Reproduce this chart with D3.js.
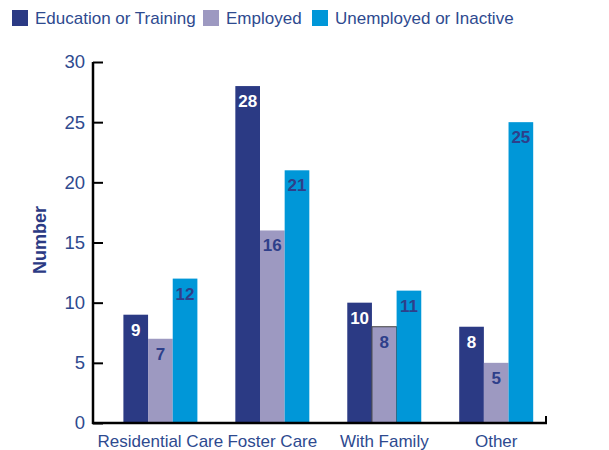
<!DOCTYPE html>
<html>
<head>
<meta charset="utf-8">
<script src="https://cdn.jsdelivr.net/npm/d3@7"></script>
<style>
  body { margin: 0; background: #fff; }
  text { font-family: "Liberation Sans", Arial, sans-serif; }
</style>
</head>
<body>
<svg id="chart" width="609" height="450"></svg>
<script>
var categories = ["Residential Care", "Foster Care", "With Family", "Other"];
var seriesNames = ["Education or Training", "Employed", "Unemployed or Inactive"];
var education = [9, 28, 10, 8];
var employed = [7, 16, 8, 5];
var unemployed = [12, 21, 11, 25];
var yTicks = [0, 5, 10, 15, 20, 25, 30];

var colors = ["#2b3a84", "#9d99c1", "#0097d8"];
var labelColors = ["#ffffff", "#2e3f8a", "#2e3f8a"];
var textBlue = "#2e4a8f";

var svg = d3.select("#chart");
var series = [education, employed, unemployed];

var y = d3.scaleLinear().domain([0, 30]).range([423, 62]);
var x0 = d3.scaleBand().domain(categories).range([123.4, 533.2]).paddingInner(0.339).paddingOuter(0);
var x1 = d3.scaleBand().domain(d3.range(3)).range([0, x0.bandwidth()]);

// legend
var legend = svg.append("g");
var legendX = [12, 203, 312];
seriesNames.forEach(function(name, i) {
  legend.append("rect")
    .attr("x", legendX[i]).attr("y", 10)
    .attr("width", 16).attr("height", 16)
    .attr("fill", colors[i]);
  legend.append("text")
    .attr("x", legendX[i] + 23).attr("y", 24)
    .attr("font-size", 17)
    .attr("fill", textBlue)
    .text(name);
});

// bars
var groups = svg.selectAll("g.cat")
  .data(categories).enter()
  .append("g")
  .attr("class", "cat")
  .attr("transform", function(d) { return "translate(" + x0(d) + ",0)"; });

groups.each(function(cat, ci) {
  var g = d3.select(this);
  series.forEach(function(vals, si) {
    var v = vals[ci];
    g.append("rect")
      .attr("x", x1(si))
      .attr("y", y(v))
      .attr("width", x1.bandwidth())
      .attr("height", y(0) - y(v))
      .attr("fill", colors[si])
      .attr("stroke", (cat === "With Family" && si === 1) ? "#444" : "none")
      .attr("stroke-width", 1);
    g.append("text")
      .attr("x", x1(si) + x1.bandwidth() / 2)
      .attr("y", y(v) + 21)
      .attr("text-anchor", "middle")
      .attr("font-size", 17)
      .attr("font-weight", "bold")
      .attr("fill", labelColors[si])
      .text(v);
  });
});

// axes
var yAxis = d3.axisLeft(y).tickValues(yTicks).tickSize(-10).tickPadding(8);
var ya = svg.append("g").attr("transform", "translate(93,0)").call(yAxis);
ya.select(".domain").remove();
ya.selectAll(".tick line").attr("stroke", "#000").attr("stroke-width", 2);
ya.selectAll(".tick text")
  .attr("font-size", 18.5)
  .attr("fill", textBlue)
  .style("font-family", "Liberation Sans, Arial, sans-serif");

svg.append("line")
  .attr("x1", 93).attr("x2", 93)
  .attr("y1", y(30)).attr("y2", y(0) + 1)
  .attr("stroke", "#000").attr("stroke-width", 2.5);
svg.append("line")
  .attr("x1", 92).attr("x2", 547)
  .attr("y1", y(0)).attr("y2", y(0))
  .attr("stroke", "#000").attr("stroke-width", 2.5);
svg.append("line")
  .attr("x1", 546).attr("x2", 546)
  .attr("y1", y(0)).attr("y2", y(0) - 7)
  .attr("stroke", "#000").attr("stroke-width", 2);

// category labels
svg.selectAll("text.cat-label")
  .data(categories).enter()
  .append("text")
  .attr("class", "cat-label")
  .attr("x", function(d) { return x0(d) + x0.bandwidth() / 2; })
  .attr("y", 447)
  .attr("text-anchor", "middle")
  .attr("font-size", 17)
  .attr("fill", textBlue)
  .text(function(d) { return d; });

// y axis title
svg.append("text")
  .attr("transform", "translate(46,240) rotate(-90)")
  .attr("text-anchor", "middle")
  .attr("font-size", 18)
  .attr("font-weight", "bold")
  .attr("fill", "#2b3a84")
  .text("Number");
</script>
</body>
</html>
